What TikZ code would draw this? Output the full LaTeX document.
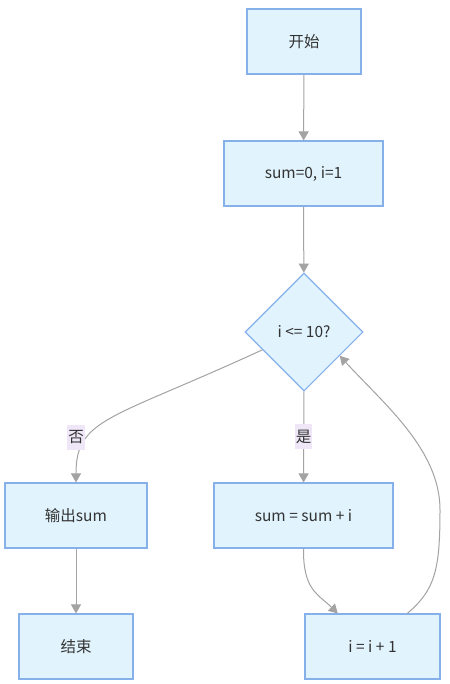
\documentclass[tikz,border=0pt]{standalone}
\usepackage{fontspec}
\setmainfont{Noto Sans CJK SC}
\usetikzlibrary{shapes.geometric,arrows.meta,calc}
\definecolor{boxfill}{HTML}{E1F3FD}
\definecolor{boxdraw}{HTML}{86B0EA}
\definecolor{edgecol}{HTML}{A3A3A3}
\definecolor{lblfill}{HTML}{EFE7F8}
\definecolor{txt}{HTML}{333333}
\tikzset{
  x=1pt, y=-1pt,
  txtfont/.style={text=txt, font=\fontsize{15.5}{17}\selectfont},
  box/.style={rectangle, draw=boxdraw, fill=boxfill, line width=1.1pt, inner sep=0pt, txtfont},
  dec/.style={diamond, draw=boxdraw, fill=boxfill, line width=1.1pt, inner sep=0pt, minimum width=118pt, minimum height=118pt, txtfont},
  edge/.style={draw=edgecol, line width=1pt, line join=round, -{Triangle[length=9pt,width=10pt]}},
  lbl/.style={fill=lblfill, inner sep=1pt, minimum height=25pt, txtfont}
}
\begin{document}
\begin{tikzpicture}
\useasboundingbox[fill=white] (0,0) rectangle (449,684);
\node[box, minimum width=114pt, minimum height=65pt] (start) at (304,41.5) {开始};
\node[box, minimum width=159pt, minimum height=65pt] (init) at (303.5,173.5) {sum=0, i=1};
\node[dec] (cond) at (304,332) {i <= 10?};
\node[box, minimum width=142pt, minimum height=65pt] (out) at (76,515.5) {输出sum};
\node[box, minimum width=114pt, minimum height=65pt] (fin) at (76,646.5) {结束};
\node[box, minimum width=179pt, minimum height=65pt] (add) at (303.5,515.5) {sum = sum + i};
\node[box, minimum width=135pt, minimum height=65pt] (inc) at (372.5,646.5) {i = i + 1};

\coordinate (noStart) at ($(cond.west)!0.3!(cond.south)$);
\coordinate (incIn) at ($(inc.north west)!0.245!(inc.north east)$);
\coordinate (incOut) at ($(inc.north west)!0.755!(inc.north east)$);
\coordinate (back) at ($(cond.east)!0.4!(cond.south)$);

\draw[edge] (start) -- (init);
\draw[edge] (init) -- (cond);
\draw[edge] (noStart) .. controls (110,420) and (76,418) .. (out.north);
\node[lbl] (no) at (76,437) {否};
\draw[edge] (cond) -- node[lbl] (yes) {是} (add);
\draw[edge] (out) -- (fin);
\draw[edge] (add.south) .. controls (303,590) and (318,594) .. (incIn);
\draw[edge] (incOut) .. controls (435,590) and (440,570) .. (440,510) .. controls (440,450) and (385,405) .. (back);
\end{tikzpicture}
\end{document}
